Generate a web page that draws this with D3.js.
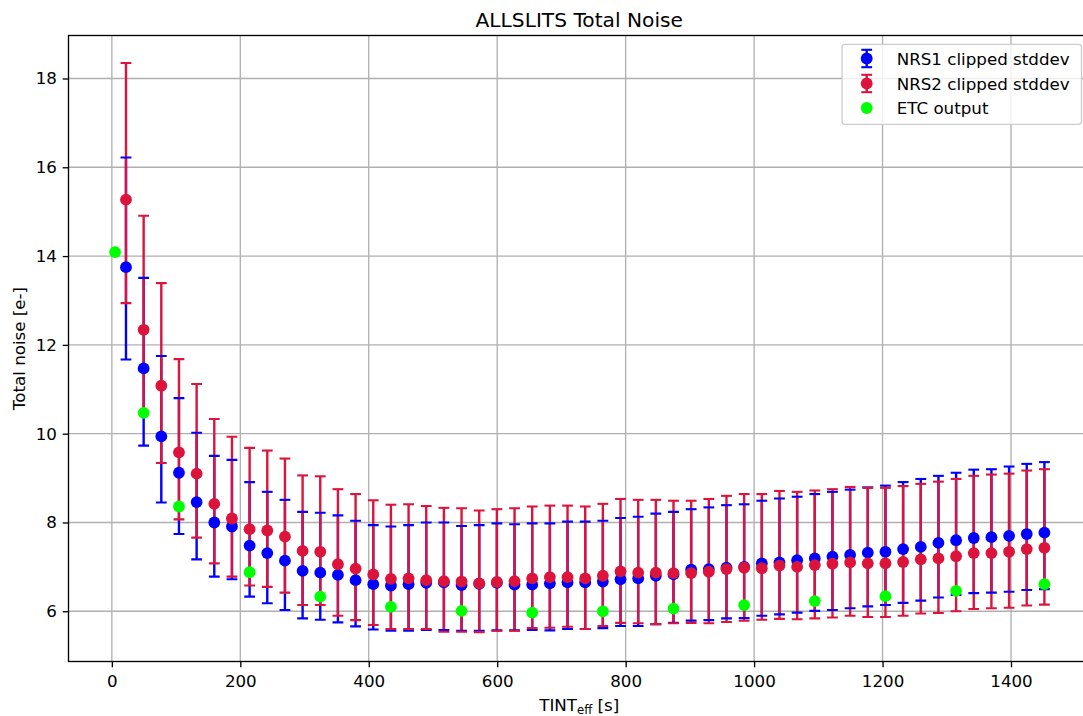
<!DOCTYPE html>
<html><head><meta charset="utf-8">
<script src="https://cdn.jsdelivr.net/npm/d3@7"></script>
<style>
body{margin:0;background:#fff;}
svg{display:block;font-family:"DejaVu Sans",sans-serif;}
</style>
</head><body>
<svg id="chart" width="1083" height="716"></svg>
<script>
// ---- data ----
const tint = [22, 49.5, 77, 104.5, 132, 159.5, 187, 214.5, 242, 269.5, 297, 324.5, 352, 379.5, 407, 434.5, 462, 489.5, 517, 544.5, 572, 599.5, 627, 654.5, 682, 709.5, 737, 764.5, 792, 819.5, 847, 874.5, 902, 929.5, 957, 984.5, 1012, 1039.5, 1067, 1094.5, 1122, 1149.5, 1177, 1204.5, 1232, 1259.5, 1287, 1314.5, 1342, 1369.5, 1397, 1424.5, 1452];

const nrs1 = [13.75, 11.47, 9.94, 9.12, 8.46, 8.00, 7.91, 7.48, 7.31, 7.14, 6.91, 6.87, 6.82, 6.70, 6.61, 6.58, 6.61, 6.64, 6.65, 6.59, 6.62, 6.64, 6.60, 6.60, 6.63, 6.65, 6.65, 6.67, 6.72, 6.74, 6.80, 6.83, 6.94, 6.95, 6.98, 7.00, 7.08, 7.10, 7.15, 7.19, 7.23, 7.27, 7.32, 7.34, 7.40, 7.45, 7.54, 7.60, 7.65, 7.67, 7.70, 7.74, 7.77];
const nrs1Hi = [16.22, 13.51, 11.75, 10.80, 10.02, 9.50, 9.41, 8.91, 8.69, 8.51, 8.24, 8.22, 8.16, 8.04, 7.94, 7.91, 7.94, 8.00, 8.00, 7.92, 7.94, 7.98, 7.96, 7.98, 7.98, 8.02, 8.02, 8.04, 8.10, 8.13, 8.20, 8.24, 8.30, 8.34, 8.39, 8.41, 8.49, 8.54, 8.58, 8.64, 8.69, 8.74, 8.79, 8.83, 8.91, 8.98, 9.05, 9.12, 9.19, 9.20, 9.26, 9.32, 9.36];
const nrs1Lo = [11.67, 9.73, 8.45, 7.74, 7.17, 6.78, 6.72, 6.33, 6.18, 6.03, 5.84, 5.81, 5.75, 5.66, 5.59, 5.56, 5.56, 5.58, 5.58, 5.56, 5.56, 5.57, 5.57, 5.58, 5.57, 5.60, 5.60, 5.62, 5.67, 5.67, 5.71, 5.74, 5.79, 5.80, 5.84, 5.85, 5.90, 5.93, 5.97, 6.01, 6.03, 6.07, 6.11, 6.14, 6.19, 6.24, 6.31, 6.37, 6.41, 6.42, 6.44, 6.48, 6.50];

const nrs2 = [15.27, 12.34, 11.08, 9.58, 9.10, 8.42, 8.09, 7.85, 7.82, 7.68, 7.36, 7.34, 7.06, 6.96, 6.83, 6.73, 6.74, 6.70, 6.68, 6.67, 6.63, 6.66, 6.68, 6.74, 6.77, 6.77, 6.74, 6.80, 6.90, 6.87, 6.87, 6.86, 6.86, 6.89, 6.95, 6.98, 6.97, 7.03, 7.00, 7.04, 7.07, 7.10, 7.08, 7.08, 7.11, 7.17, 7.19, 7.24, 7.31, 7.31, 7.34, 7.40, 7.43];
const nrs2Hi = [18.35, 14.91, 13.39, 11.68, 11.12, 10.33, 9.93, 9.68, 9.62, 9.44, 9.06, 9.04, 8.75, 8.64, 8.50, 8.40, 8.41, 8.37, 8.33, 8.32, 8.27, 8.30, 8.32, 8.36, 8.38, 8.38, 8.36, 8.42, 8.53, 8.51, 8.51, 8.49, 8.49, 8.53, 8.60, 8.64, 8.64, 8.71, 8.69, 8.72, 8.75, 8.80, 8.78, 8.78, 8.82, 8.87, 8.92, 8.98, 9.05, 9.08, 9.10, 9.17, 9.20];
const nrs2Lo = [12.94, 10.45, 9.34, 8.07, 7.66, 7.08, 6.78, 6.58, 6.55, 6.42, 6.14, 6.14, 5.90, 5.80, 5.69, 5.60, 5.60, 5.60, 5.54, 5.54, 5.53, 5.56, 5.56, 5.62, 5.63, 5.65, 5.60, 5.67, 5.74, 5.73, 5.71, 5.73, 5.74, 5.73, 5.76, 5.79, 5.81, 5.83, 5.82, 5.84, 5.86, 5.90, 5.87, 5.87, 5.90, 5.95, 5.96, 6.00, 6.05, 6.07, 6.08, 6.13, 6.15];

const etcTint = [5, 49.5, 104.5, 214.5, 324.5, 434.5, 544.5, 654.5, 764.5, 874.5, 984.5, 1094.5, 1204.5, 1314.5, 1452];
const etcNoise = [14.09, 10.47, 8.36, 6.88, 6.33, 6.10, 6.01, 5.97, 6.00, 6.06, 6.14, 6.23, 6.34, 6.46, 6.61];

const xTicks = [0, 200, 400, 600, 800, 1000, 1200, 1400];
const yTicks = [6, 8, 10, 12, 14, 16, 18];

const seriesNames = ["NRS1 clipped stddev", "NRS2 clipped stddev", "ETC output"];
const colors = ["#0000ff", "#dc143c", "#00ff00"];

// ---- layout ----
const svg = d3.select("#chart");
const m = {left: 68.5, right: 1090, top: 35.5, bottom: 661.5};
const x = d3.scaleLinear().domain([-67.5, 1523]).range([m.left, m.right]);
const y = d3.scaleLinear().domain([4.869, 18.968]).range([m.bottom, m.top]);
const FS = 16.7;
const R = 5.9;

svg.append("defs").append("clipPath").attr("id", "clip")
  .append("rect").attr("x", m.left).attr("y", m.top)
  .attr("width", m.right - m.left).attr("height", m.bottom - m.top);

// grid
const grid = svg.append("g");
grid.selectAll(".gx").data(xTicks).join("line")
  .attr("x1", d => x(d)).attr("x2", d => x(d)).attr("y1", m.top).attr("y2", m.bottom)
  .attr("stroke", "#b0b0b0").attr("stroke-width", 1.33);
grid.selectAll(".gy").data(yTicks).join("line")
  .attr("y1", d => y(d)).attr("y2", d => y(d)).attr("x1", m.left).attr("x2", m.right)
  .attr("stroke", "#b0b0b0").attr("stroke-width", 1.33);

// axes
const xAxis = svg.append("g").attr("transform", `translate(0,${m.bottom})`)
  .call(d3.axisBottom(x).tickValues(xTicks).tickFormat(d3.format("d")).tickSize(5.8).tickPadding(7.4));
const yAxis = svg.append("g").attr("transform", `translate(${m.left},0)`)
  .call(d3.axisLeft(y).tickValues(yTicks).tickFormat(d3.format("d")).tickSize(5.8).tickPadding(5.8));
[xAxis, yAxis].forEach(a => {
  a.select(".domain").remove();
  a.selectAll(".tick line").attr("stroke", "#000").attr("stroke-width", 1.33);
  a.selectAll(".tick text").attr("fill", "#000").style("font-size", FS + "px")
    .style("font-family", '"DejaVu Sans", sans-serif');
});

// data layer
const plot = svg.append("g").attr("clip-path", "url(#clip)");
const series = [
  {v: nrs1, lo: nrs1Lo, hi: nrs1Hi, c: colors[0]},
  {v: nrs2, lo: nrs2Lo, hi: nrs2Hi, c: colors[1]}
];
const capW = 5.4;
series.forEach(s => {
  plot.append("g").selectAll("line").data(tint).join("line")
    .attr("x1", d => x(d)).attr("x2", d => x(d))
    .attr("y1", (d, i) => y(s.lo[i])).attr("y2", (d, i) => y(s.hi[i]))
    .attr("stroke", s.c).attr("stroke-width", 2.4);
});
series.forEach(s => {
  const g = plot.append("g");
  ["lo", "hi"].forEach(k => {
    g.selectAll("line." + k).data(tint).join("line").attr("class", k)
      .attr("x1", d => x(d) - capW).attr("x2", d => x(d) + capW)
      .attr("y1", (d, i) => y(s[k][i])).attr("y2", (d, i) => y(s[k][i]))
      .attr("stroke", s.c).attr("stroke-width", 2.1);
  });
});
series.forEach(s => {
  plot.append("g").selectAll("circle").data(tint).join("circle")
    .attr("cx", d => x(d)).attr("cy", (d, i) => y(s.v[i])).attr("r", R)
    .attr("fill", s.c);
});
plot.append("g").selectAll("circle").data(etcTint).join("circle")
  .attr("cx", d => x(d)).attr("cy", (d, i) => y(etcNoise[i])).attr("r", R)
  .attr("fill", colors[2]);

// spines
svg.append("rect").attr("x", m.left).attr("y", m.top)
  .attr("width", m.right - m.left).attr("height", m.bottom - m.top)
  .attr("fill", "none").attr("stroke", "#000").attr("stroke-width", 1.33);

// title & labels
svg.append("text").attr("x", (m.left + m.right) / 2).attr("y", 26.5)
  .attr("text-anchor", "middle").style("font-size", "20.2px").attr("fill", "#000")
  .text("ALLSLITS Total Noise");
const xl = svg.append("text").attr("x", (m.left + m.right) / 2).attr("y", 710.5)
  .attr("text-anchor", "middle").style("font-size", FS + "px").attr("fill", "#000");
xl.append("tspan").text("TINT");
xl.append("tspan").attr("dy", 3.5).style("font-size", "11.7px").text("eff");
xl.append("tspan").attr("dy", -3.5).text(" [s]");
svg.append("text").attr("transform", "translate(19,348.5) rotate(-90)")
  .attr("text-anchor", "middle").attr("dominant-baseline", "central")
  .style("font-size", FS + "px").attr("fill", "#000").text("Total noise [e-]");

// legend
const lg = svg.append("g");
lg.append("rect").attr("x", 842).attr("y", 44.3).attr("width", 239.5).attr("height", 80)
  .attr("rx", 3).attr("fill", "#fff").attr("fill-opacity", 0.8)
  .attr("stroke", "#cccccc").attr("stroke-width", 1.33);
const rowY = [58.5, 83.5, 108];
const mx = 866.7;
seriesNames.forEach((name, i) => {
  const gy = rowY[i];
  if (i < 2) {
    lg.append("line").attr("x1", mx).attr("x2", mx).attr("y1", gy - 8.7).attr("y2", gy + 8.7)
      .attr("stroke", colors[i]).attr("stroke-width", 2.4);
    [gy - 8.7, gy + 8.7].forEach(cy => lg.append("line")
      .attr("x1", mx - capW).attr("x2", mx + capW).attr("y1", cy).attr("y2", cy)
      .attr("stroke", colors[i]).attr("stroke-width", 2.1));
  }
  lg.append("circle").attr("cx", mx).attr("cy", gy).attr("r", R).attr("fill", colors[i]);
  lg.append("text").attr("x", 896.7).attr("y", gy).attr("dominant-baseline", "central")
    .style("font-size", FS + "px").attr("fill", "#000").text(name);
});
</script>
</body></html>
